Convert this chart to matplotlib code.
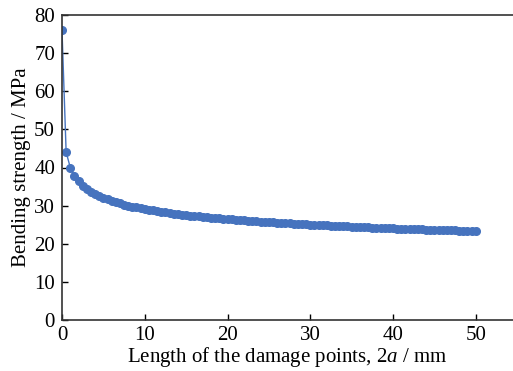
import matplotlib.pyplot as plt
import numpy as np

plt.rcParams['font.family'] = ['Liberation Serif', 'DejaVu Serif']
plt.rcParams['mathtext.fontset'] = 'custom'
plt.rcParams['mathtext.it'] = 'Liberation Serif:italic'
plt.rcParams['mathtext.rm'] = 'Liberation Serif'

# damage length 2a (mm), step 0.5
length = [i * 0.5 for i in range(101)]
strength = [76.00, 44.02, 40.00, 37.82, 36.35, 35.25, 34.37, 33.65, 33.04, 32.50, 32.03,
            31.62, 31.24, 30.90, 30.58, 30.29, 30.02, 29.77, 29.54, 29.32, 29.11,
            28.92, 28.73, 28.56, 28.39, 28.23, 28.08, 27.93, 27.79, 27.66, 27.53,
            27.40, 27.28, 27.17, 27.06, 26.95, 26.84, 26.74, 26.64, 26.55, 26.46,
            26.37, 26.28, 26.19, 26.11, 26.03, 25.95, 25.87, 25.80, 25.72, 25.65,
            25.58, 25.52, 25.45, 25.38, 25.32, 25.26, 25.20, 25.14, 25.08, 25.02,
            24.96, 24.90, 24.85, 24.80, 24.74, 24.69, 24.64, 24.59, 24.54, 24.49,
            24.44, 24.40, 24.35, 24.30, 24.26, 24.21, 24.17, 24.12, 24.08, 24.04,
            24.00, 23.96, 23.92, 23.88, 23.84, 23.80, 23.77, 23.73, 23.69, 23.66,
            23.62, 23.58, 23.55, 23.52, 23.48, 23.45, 23.41, 23.38, 23.35, 23.32]

xticks = [0, 10, 20, 30, 40, 50]
yticks = [0, 10, 20, 30, 40, 50, 60, 70, 80]

fig = plt.figure(figsize=(5.13, 3.71), dpi=100)
ax = fig.add_axes([62/513, 51/371, 451/513, 305/371])
ax.plot(length, strength, 'o-', color='#4673BE', markersize=5.5, linewidth=1.0)

ax.set_xlim(0, 54.5)
ax.set_ylim(0, 80)
ax.set_xticks(xticks)
ax.set_yticks(yticks)
ax.tick_params(direction='in', labelsize=15, length=4, width=1)
ax.tick_params(axis='x', pad=4)
ax.tick_params(axis='y', pad=5)
ax.spines['right'].set_visible(False)
for s in ['left', 'bottom', 'top']:
    ax.spines[s].set_linewidth(1.2)
    ax.spines[s].set_color('#333333')

ax.set_xlabel('Length of the damage points, 2$a$ / mm', fontsize=15, labelpad=0)
ax.set_ylabel('Bending strength / MPa', fontsize=15, labelpad=2)

fig.savefig('out.png', dpi=100)
